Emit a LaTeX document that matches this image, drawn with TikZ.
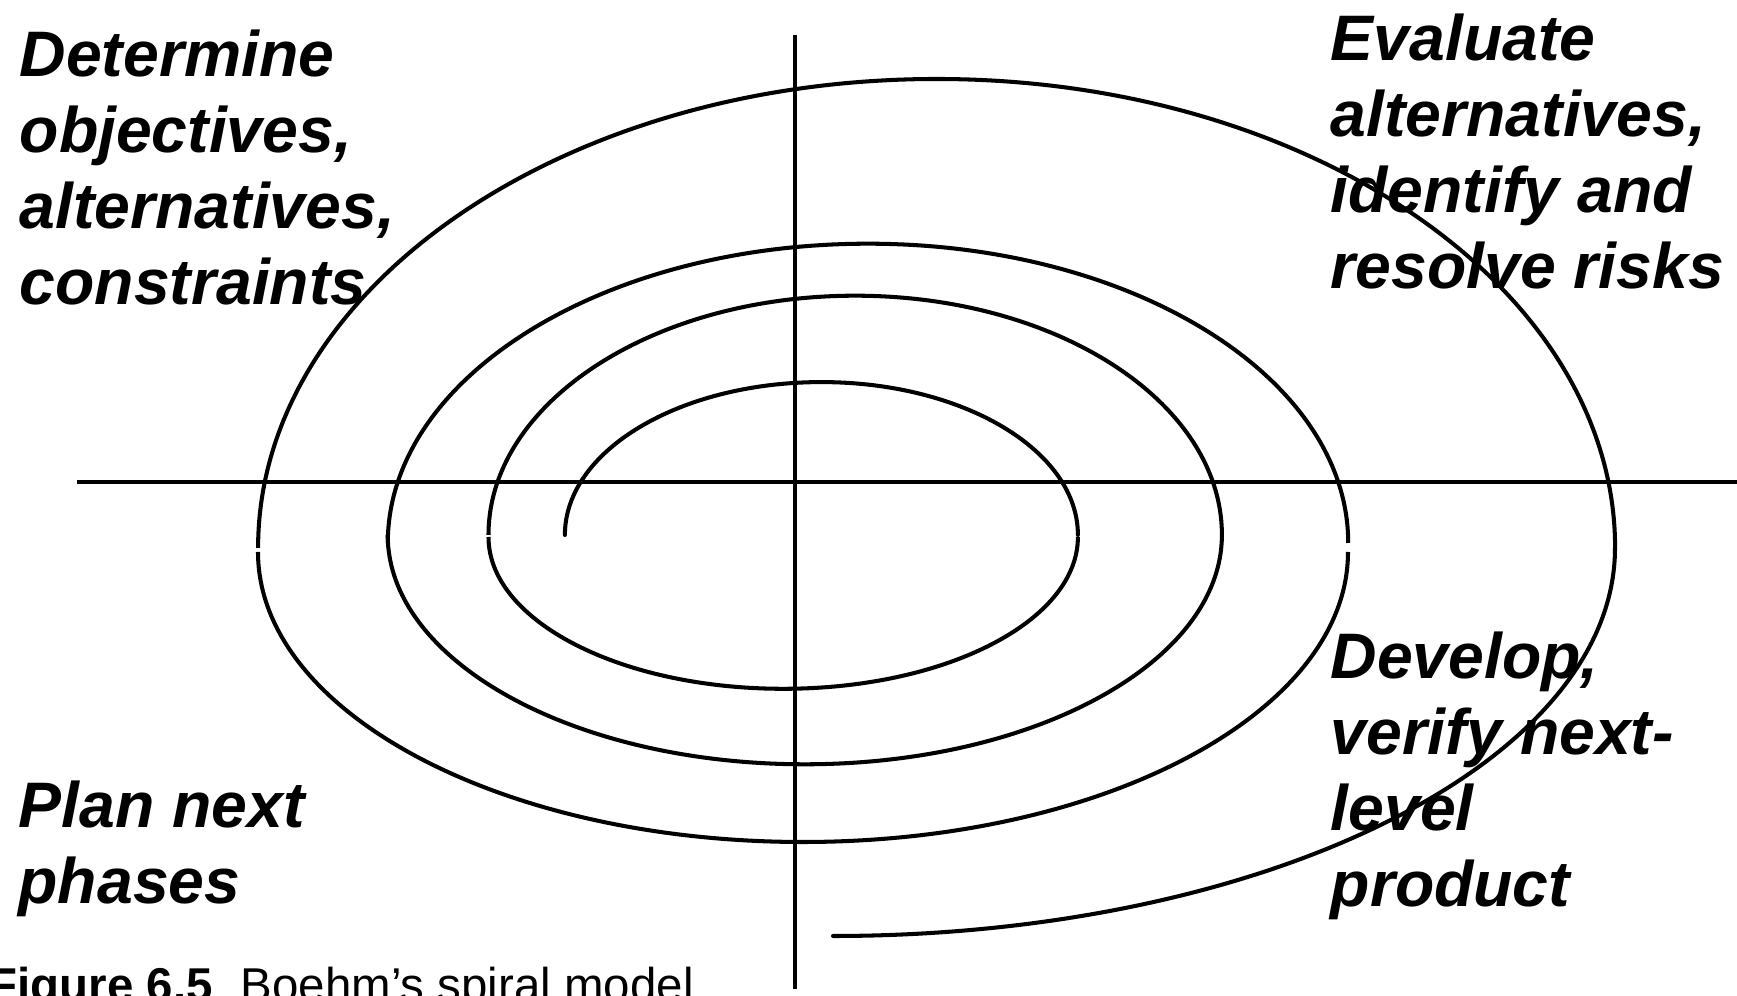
\documentclass[tikz,border=0pt]{standalone}
\usepackage{fontspec}
\setmainfont{Liberation Sans}
\tikzset{
  axisline/.style={line width=1.25pt},
  spiral/.style={line width=1.15pt},
  quadlabel/.style={anchor=north west, inner sep=0pt, align=left,
    font=\fontsize{18.3}{21.6}\selectfont\bfseries\itshape},
  captiontext/.style={anchor=base west, inner sep=0pt, font=\fontsize{13.5}{16}\selectfont}
}
\begin{document}
\begin{tikzpicture}
\useasboundingbox (0,0) rectangle (17.37,9.96);
% axes
\coordinate (hl) at (0.775,5.14);
\coordinate (hr) at (17.37,5.14);
\coordinate (vt) at (7.95,9.61);
\coordinate (vb) at (7.95,0.07);
\draw[axisline] (hl) -- (hr);
\draw[axisline] (vt) -- (vb);
% spiral (half-ellipse pieces)
\coordinate (s1) at (5.649,4.61);
\coordinate (s2) at (10.779,4.59);
\coordinate (s3) at (4.885,4.61);
\coordinate (s4) at (12.219,4.61);
\coordinate (s5) at (3.878,4.53);
\coordinate (s6) at (13.48,4.44);
\coordinate (s7) at (2.581,4.48);
\coordinate (s8) at (16.15,4.48);
\draw[spiral,line cap=round] (s1) arc[start angle=180,end angle=0,x radius=2.565cm,y radius=1.529cm];
\draw[spiral] (s2) arc[start angle=0,end angle=-180,x radius=2.947cm,y radius=1.518cm];
\draw[spiral] (s3) arc[start angle=180,end angle=0,x radius=3.667cm,y radius=2.393cm];
\draw[spiral] (s4) arc[start angle=0,end angle=-180,x radius=4.171cm,y radius=2.293cm];
\draw[spiral] (s5) arc[start angle=180,end angle=0,x radius=4.802cm,y radius=2.993cm];
\draw[spiral] (s6) arc[start angle=0,end angle=-180,x radius=5.45cm,y radius=2.90cm];
\draw[spiral] (s7) arc[start angle=180,end angle=0,x radius=6.785cm,y radius=4.69cm];
\draw[spiral,line cap=round] (s8) arc[start angle=0,end angle=-90,x radius=7.82cm,y radius=3.88cm];
% labels
\node[quadlabel] (det) at (0.19,9.67) {Determine\\objectives,\\alternatives,\\constraints};
\node[quadlabel] (eva) at (13.30,9.83) {Evaluate\\alternatives,\\identify and\\resolve risks};
\node[quadlabel] (dev) at (13.30,3.65) {Develop,\\verify next-\\level\\product};
\node[quadlabel] (pla) at (0.18,2.16) {Plan next\\phases};
\node[captiontext] (cap) at (-0.12,-0.06) {\textbf{Figure 6.5}\hspace{8pt}Boehm’s spiral model};
\end{tikzpicture}
\end{document}
